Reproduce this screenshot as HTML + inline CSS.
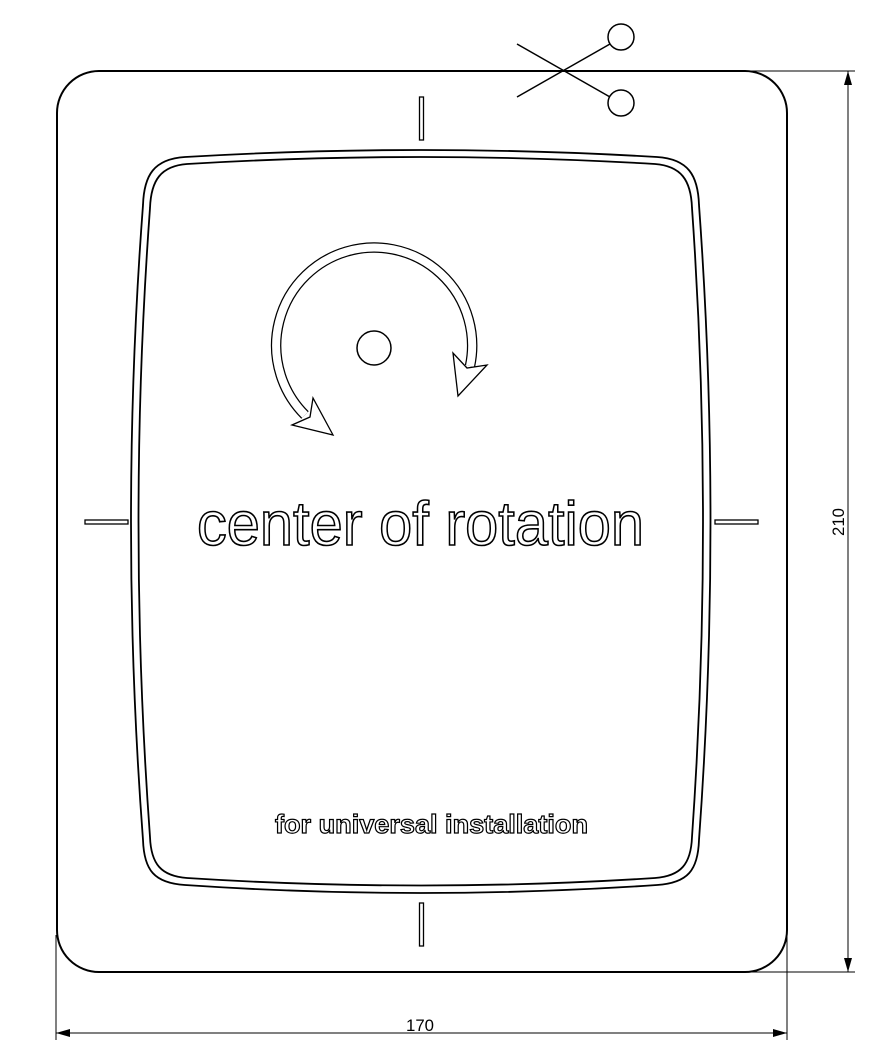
<!DOCTYPE html>
<html><head><style>html,body{margin:0;padding:0;background:#fff}svg{display:block}</style></head>
<body>
<svg width="893" height="1047" viewBox="0 0 893 1047" xmlns="http://www.w3.org/2000/svg">
<g fill="none" stroke="#000">
<path d="M99,71 H745 A42,42 0 0 1 787,113 V930 A42,42 0 0 1 745,972 H99 A42,42 0 0 1 57,930 V113 A42,42 0 0 1 99,71 Z" stroke-width="2"/>
<path d="M185,157 Q421,143 657,157 C688,159 698,175 699,205 Q722,522 699,840 C698,870 688,883 657,885 Q421,901 185,885 C154,883 144,870 143,840 Q119,522 143,205 C144,175 154,159 185,157 Z" stroke-width="1.8"/>
<path d="M187,164 Q421,150 655,164 C681,166 691,180 692,208 Q714,522 692,837 C691,864 681,876 655,878 Q421,893 187,878 C161,876 151,864 150,837 Q127,522 150,208 C151,180 161,166 187,164 Z" stroke-width="1.8"/>
<rect x="419.5" y="97" width="4" height="43" stroke-width="1.3"/>
<rect x="419.5" y="903" width="4" height="43" stroke-width="1.3"/>
<rect x="85" y="520" width="43" height="4" stroke-width="1.3"/>
<rect x="715" y="520" width="43" height="4" stroke-width="1.3"/>
<line x1="517" y1="44" x2="610" y2="97" stroke-width="1.5"/>
<line x1="517" y1="97" x2="610" y2="44" stroke-width="1.5"/>
<circle cx="621" cy="37" r="13" stroke-width="1.5"/>
<circle cx="621" cy="103" r="13" stroke-width="1.5"/>
<line x1="745" y1="71" x2="855" y2="71" stroke-width="1"/>
<line x1="745" y1="972" x2="855" y2="972" stroke-width="1"/>
<line x1="848" y1="71" x2="848" y2="972" stroke-width="1"/>
<line x1="56" y1="935" x2="56" y2="1040" stroke-width="1"/>
<line x1="787" y1="935" x2="787" y2="1040" stroke-width="1"/>
<line x1="56" y1="1033" x2="787" y2="1033" stroke-width="1"/>
<circle cx="374" cy="348" r="17" stroke-width="1.5"/>
<path d="M305,415 A98,98 0 1 1 470,366" stroke-width="10.5" stroke-linecap="butt"/>
<path d="M305,415 A98,98 0 1 1 470,366" stroke="#fff" stroke-width="8" stroke-linecap="butt"/>
</g>
<g fill="#fff" stroke="#000" stroke-width="1.3" stroke-linejoin="miter">
<polygon points="292,425 333,435 313,398 310,417"/>
<polygon points="453,353 458,396 487,365 467,368"/>
</g>
<g fill="#000">
<polygon points="848,71 844,85 852,85"/>
<polygon points="848,972 844,958 852,958"/>
<polygon points="56,1033 70,1029 70,1037"/>
<polygon points="787,1033 773,1029 773,1037"/>
</g>
<text x="197" y="545" font-family="Liberation Sans, sans-serif" font-size="62" textLength="447" lengthAdjust="spacingAndGlyphs" fill="#fff" stroke="#000" stroke-width="1.6">center of rotation</text>
<text x="275" y="833" font-family="Liberation Sans, sans-serif" font-size="26" font-weight="bold" textLength="313" lengthAdjust="spacingAndGlyphs" fill="#fff" stroke="#000" stroke-width="1.2">for universal installation</text>
<text x="420" y="1031" text-anchor="middle" font-family="Liberation Sans, sans-serif" font-size="17" fill="#000" textLength="28" lengthAdjust="spacingAndGlyphs">170</text>
<text transform="translate(844,522) rotate(-90)" text-anchor="middle" font-family="Liberation Sans, sans-serif" font-size="17" fill="#000" textLength="28" lengthAdjust="spacingAndGlyphs">210</text>
</svg>
</body></html>
